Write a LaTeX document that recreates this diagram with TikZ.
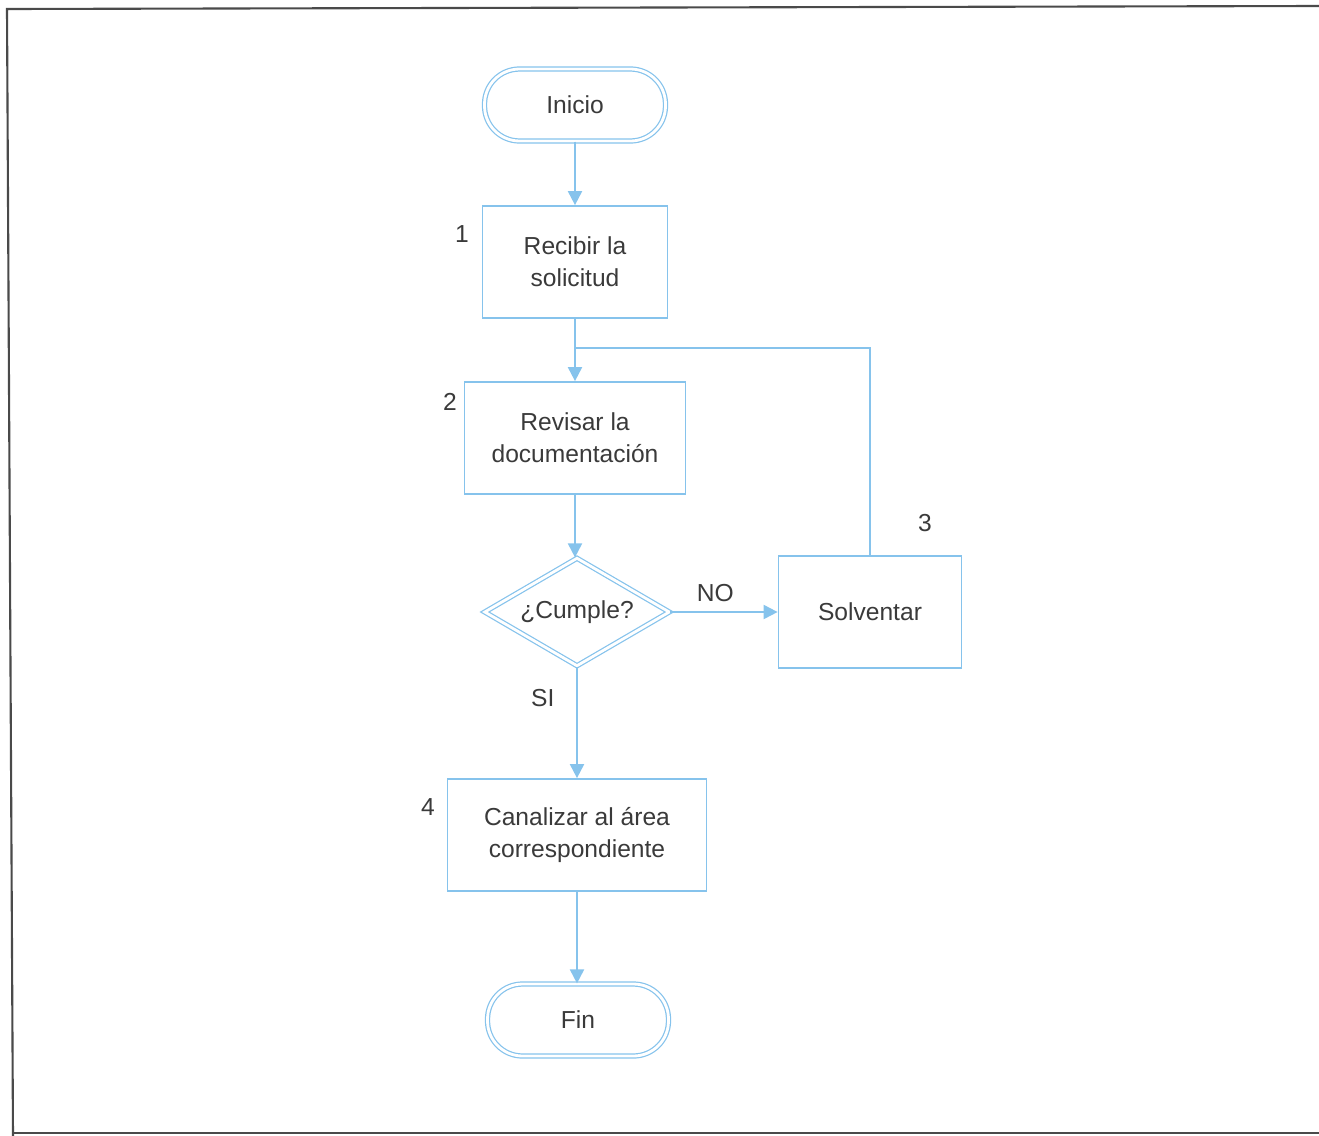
\documentclass[tikz,border=0pt]{standalone}
\usepackage{fontspec}
\setmainfont{Liberation Sans}
\usepackage{xcolor}
\usetikzlibrary{arrows.meta,positioning,shapes.geometric}
\definecolor{flowblue}{HTML}{86C3EC}
\definecolor{textgray}{HTML}{3A3A3A}
\definecolor{framegray}{HTML}{4A4A4A}

\begin{document}
\begin{tikzpicture}[x=0.02cm,y=-0.02cm,font=\fontsize{14pt}{18pt}\selectfont,text=textgray,
  terminal/.style={draw=flowblue,double=white,double distance=1.6pt,line width=0.7pt,rounded corners=0.7cm,minimum width=3.62cm,minimum height=1.44cm},
  stepbox/.style={draw=flowblue,line width=1pt,align=center,minimum height=2.24cm},
  decision/.style={diamond,aspect=1.7,draw=flowblue,double=white,double distance=1.6pt,line width=0.7pt,minimum width=3.7cm,minimum height=2.16cm,inner sep=0pt},
  flow/.style={draw=flowblue,line width=1.1pt,-{Triangle[width=8pt,length=8pt]}}]
  \useasboundingbox (0,0) rectangle (1319,1136);
  % marco
  \draw[framegray,line width=1.2pt] (1319,6)--(7,9)--(13,1136);
  \draw[framegray,line width=1.2pt] (13,1133)--(1319,1133);
  % nodos
  \node[terminal] (inicio) at (575,105) {Inicio};
  \node[stepbox,minimum width=3.7cm] (recibir) at (575,262) {Recibir la\\solicitud};
  \node[stepbox,minimum width=4.42cm] (revisar) at (575,438) {Revisar la\\documentación};
  \node[decision] (cumple) at (577,612) {¿Cumple?};
  \node[stepbox,minimum width=3.66cm] (solventar) at (870,612) {Solventar};
  \node[stepbox,minimum width=5.18cm] (canalizar) at (577,835) {Canalizar al área\\correspondiente};
  \node[terminal] (fin) at (578,1020) {Fin};
  % numeros
  \node (n1) at (462,234) {1};
  \node (n2) at (450,402) {2};
  \node (n3) at (925,523) {3};
  \node (n4) at (428,807) {4};
  \coordinate (jn) at (575,348);
  % conectores
  \draw[flow] (inicio) -- (recibir);
  \draw[flow] (recibir) -- (revisar);
  \draw[flow] (revisar.south) -- (revisar.south |- cumple.north);
  \draw[flow] (cumple) -- node[pos=0.42,above=2pt] (no) {NO} (solventar);
  \draw[draw=flowblue,line width=1.1pt] (solventar.north) |- (jn);
  \draw[flow] (cumple) -- node[pos=0.28,left=9pt] (si) {SI} (canalizar);
  \draw[flow] (canalizar.south) -- (fin.north -| canalizar.south);
\end{tikzpicture}
\end{document}
